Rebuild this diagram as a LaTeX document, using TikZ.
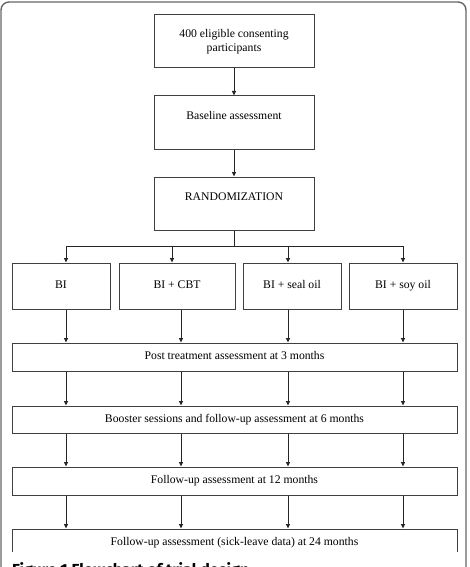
\documentclass[tikz,border=0pt]{standalone}
\usepackage{fontspec}
\setmainfont{Liberation Serif}
\newfontfamily\capfont{Fira Sans}
\usetikzlibrary{positioning, arrows.meta}

\begin{document}
\begin{tikzpicture}[
  x=1pt, y=-1pt,
  node distance=27pt,
  stage/.style={draw=black!75, line width=1pt, minimum width=160pt, minimum height=53pt, align=center, inner sep=0pt, font=\fontsize{11.7}{14}\selectfont},
  arm/.style={draw=black!75, line width=1pt, minimum height=46pt, inner sep=0pt, text height=8pt, text depth=2.5pt, font=\fontsize{11.7}{14}\selectfont},
  band/.style={draw=black!75, line width=1pt, minimum width=445pt, minimum height=28pt, inner sep=0pt, text height=8pt, text depth=2.5pt, font=\fontsize{11.7}{14}\selectfont},
  flow/.style={draw=black!85, line width=1pt, -{Triangle[length=4.5pt, width=4pt]}}
]
  \clip (0,0) rectangle (469,567);
  % outer frame
  \draw[black!60, line width=1.4pt, rounded corners=8pt] (1,600) -- (1,2) -- (466,2) -- (466,600);

  \node[stage] (pool) at (234,41.5) {400 eligible consenting\\participants};
  \node[stage, below=of pool] (base) {Baseline assessment\\\mbox{}};
  \node[stage, below=of base] (rand) {RANDOMIZATION\\\mbox{}};

  % four arms
  \node[arm, minimum width=98pt] (bi) at (61,286) {BI};
  \node[arm, minimum width=116pt] (cbt) at (177,286) {BI + CBT};
  \node[arm, minimum width=98pt] (seal) at (292,286) {BI + seal oil};
  \node[arm, minimum width=108pt] (soy) at (403,286) {BI + soy oil};

  % follow-up stages
  \node[band] (post) at (234.5,357) {Post treatment assessment at 3 months};
  \node[band, minimum height=27pt] (boost) at (234.5,419.5) {Booster sessions and follow-up assessment at 6 months};
  \node[band] (m12) at (234.5,481) {Follow-up assessment at 12 months};
  \begin{scope}
    \clip (0,0) rectangle (469,551);
    \node[band] (m24) at (234.5,543) {Follow-up assessment (sick-leave data) at 24 months};
  \end{scope}

  \node[anchor=base west, font=\capfont\bfseries\fontsize{16}{19}\selectfont, inner sep=0pt] (cap) at (12,575) {Figure 1 Flowchart of trial design};

  % split lanes
  \coordinate (split) at (234,246);
  \coordinate (t1) at (66,246);
  \coordinate (t2) at (172,246);
  \coordinate (t3) at (288,246);
  \coordinate (t4) at (403,246);
  \coordinate (l1) at (66,0);
  \coordinate (l2) at (181,0);
  \coordinate (l3) at (288,0);
  \coordinate (l4) at (403,0);

  \draw[flow] (pool) -- (base);
  \draw[flow] (base) -- (rand);
  \draw[draw=black!85, line width=1pt] (rand.south) -- (split);
  \draw[draw=black!85, line width=1pt] (t1) -- (t4);
  \draw[flow] (t1) -- (bi.north -| t1);
  \draw[flow] (t2) -- (cbt.north -| t2);
  \draw[flow] (t3) -- (seal.north -| t3);
  \draw[flow] (t4) -- (soy.north -| t4);

  \draw[flow] (bi.south -| l1) -- (post.north -| l1);
  \draw[flow] (cbt.south -| l2) -- (post.north -| l2);
  \draw[flow] (seal.south -| l3) -- (post.north -| l3);
  \draw[flow] (soy.south -| l4) -- (post.north -| l4);

  \foreach \l in {l1,l2,l3,l4} {
    \draw[flow] (post.south -| \l) -- (boost.north -| \l);
    \draw[flow] (boost.south -| \l) -- (m12.north -| \l);
    \draw[flow] (m12.south -| \l) -- (m24.north -| \l);
  }
\end{tikzpicture}
\end{document}
